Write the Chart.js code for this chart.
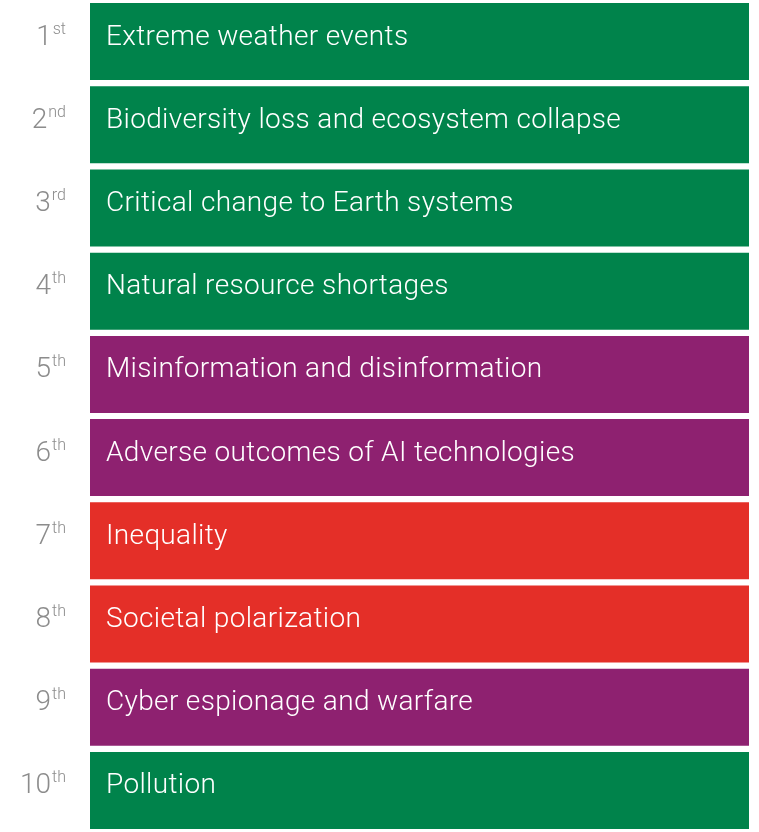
<html>
<head>
<style>
  html, body { margin: 0; padding: 0; background: #fff; }
  #wrap { width: 759px; height: 832px; }
</style>
<script src="https://cdn.jsdelivr.net/npm/chart.js@4/dist/chart.umd.min.js"></script>
</head>
<body>
<div id="wrap"><canvas id="riskChart"></canvas></div>
<script>
// top 10 risks, ranked
var ranks = ["1", "2", "3", "4", "5", "6", "7", "8", "9", "10"];
var suffixes = ["st", "nd", "rd", "th", "th", "th", "th", "th", "th", "th"];
var risks = [
  "Extreme weather events",
  "Biodiversity loss and ecosystem collapse",
  "Critical change to Earth systems",
  "Natural resource shortages",
  "Misinformation and disinformation",
  "Adverse outcomes of AI technologies",
  "Inequality",
  "Societal polarization",
  "Cyber espionage and warfare",
  "Pollution"
];
var riskTypes = ["env", "env", "env", "env", "tech", "tech", "soc", "soc", "tech", "env"];
var barValues = [1, 1, 1, 1, 1, 1, 1, 1, 1, 1];

var typeColors = { env: "#00834b", tech: "#8e2170", soc: "#e42f28" };
var FONT = 'Roboto, "Liberation Sans", Arial, sans-serif';

// draws rank numbers on the left and the risk names inside the bars
var labelPlugin = {
  id: "riskLabels",
  afterDatasetsDraw: function (chart) {
    var ctx = chart.ctx;
    var meta = chart.getDatasetMeta(0);
    ctx.save();
    ctx.textBaseline = "alphabetic";
    meta.data.forEach(function (bar, i) {
      var y = bar.y;
      // risk name
      ctx.fillStyle = "#ffffff";
      ctx.font = "300 28px " + FONT;
      ctx.letterSpacing = "0.35px";
      ctx.textAlign = "left";
      ctx.fillText(risks[i], 106, y + 3);
      ctx.letterSpacing = "0px";
      // rank number + superscript, right aligned at x=66
      ctx.fillStyle = "#8c8c8c";
      ctx.font = "300 16px " + FONT;
      var supW = ctx.measureText(suffixes[i]).width;
      ctx.fillText(suffixes[i], 66 - supW, y - 8);
      ctx.font = "300 28px " + FONT;
      ctx.textAlign = "right";
      ctx.fillText(ranks[i], 66 - supW - 1, y + 3);
    });
    ctx.restore();
  }
};

new Chart(document.getElementById("riskChart"), {
  type: "bar",
  data: {
    labels: risks,
    datasets: [{
      data: barValues,
      backgroundColor: riskTypes.map(function (t) { return typeColors[t]; }),
      borderWidth: 0,
      barPercentage: 0.925,
      categoryPercentage: 1
    }]
  },
  options: {
    indexAxis: "y",
    responsive: true,
    maintainAspectRatio: false,
    animation: false,
    layout: { padding: { left: 90, right: 10, top: 0, bottom: 0 } },
    scales: {
      x: { display: false, min: 0, max: 1 },
      y: { display: false }
    },
    plugins: {
      legend: { display: false },
      tooltip: { enabled: false }
    }
  },
  plugins: [labelPlugin]
});
</script>
</body>
</html>
